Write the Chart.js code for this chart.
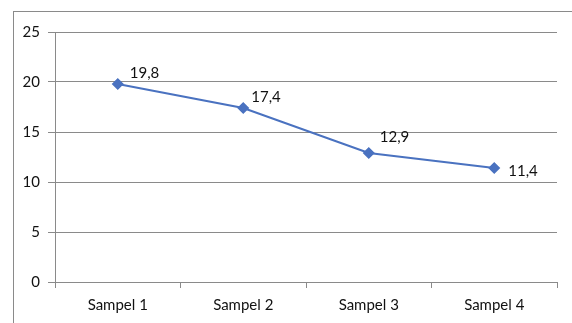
<!DOCTYPE html>
<html>
<head>
<meta charset="utf-8">
<script src="https://cdn.jsdelivr.net/npm/chart.js@4"></script>
<style>
  html, body { margin: 0; padding: 0; background: #fff; }
  #wrap { position: relative; width: 572px; height: 323px; overflow: hidden; }
  #frame { position: absolute; left: 13px; top: 11px; width: 700px; height: 500px; border: 1px solid #8a8a8a; box-sizing: border-box; }
  canvas { position: absolute; left: 0; top: 0; }
</style>
</head>
<body>
<div id="wrap">
  <div id="frame"></div>
  <canvas id="c" width="572" height="323"></canvas>
</div>
<script>
const categories = ["Sampel 1", "Sampel 2", "Sampel 3", "Sampel 4"];
const values = [19.8, 17.4, 12.9, 11.4];
const labelTexts = ["19,8", "17,4", "12,9", "11,4"];
const yTicks = [0, 5, 10, 15, 20, 25];

// label offsets relative to each point (style only)
const labelOffsets = [[12, -11], [8, -11], [11, -16], [14, 3]];

const FONT = "Lato, 'Open Sans', sans-serif";

const labelPlugin = {
  id: 'valueLabels',
  afterDatasetsDraw(chart) {
    const ctx = chart.ctx;
    const meta = chart.getDatasetMeta(0);
    ctx.save();
    ctx.font = "15px " + FONT;
    ctx.fillStyle = "#111";
    ctx.textAlign = "left";
    ctx.textBaseline = "middle";
    meta.data.forEach((pt, i) => {
      ctx.fillText(labelTexts[i], pt.x + labelOffsets[i][0], pt.y + labelOffsets[i][1]);
    });
    ctx.restore();
  }
};

new Chart(document.getElementById('c'), {
  type: 'line',
  data: {
    labels: categories,
    datasets: [{
      data: values,
      borderColor: '#4a72c0',
      backgroundColor: '#4a72c0',
      borderWidth: 2.2,
      pointStyle: 'rectRot',
      pointRadius: 4.5,
      pointHoverRadius: 4.5,
      tension: 0,
      fill: false
    }]
  },
  options: {
    responsive: false,
    animation: false,
    devicePixelRatio: 1,
    layout: { padding: { left: 0, top: 32, right: 15, bottom: 0 } },
    plugins: { legend: { display: false }, tooltip: { enabled: false } },
    scales: {
      x: {
        type: 'category',
        offset: true,
        grid: { display: true, drawOnChartArea: false, drawTicks: true, tickLength: 6, offset: true, color: '#8a8a8a' },
        border: { display: true, color: '#8a8a8a', width: 1 },
        ticks: { color: '#111', font: { family: FONT, size: 15 }, padding: 8, maxRotation: 0 },
        afterFit(s) { s.height = 41; }
      },
      y: {
        min: 0, max: 25,
        afterBuildTicks(s) { s.ticks = yTicks.map(v => ({ value: v })); },
        grid: { color: '#8a8a8a', tickLength: 7, drawTicks: true },
        border: { display: true, color: '#8a8a8a', width: 1 },
        ticks: { color: '#111', font: { family: FONT, size: 15 }, padding: 8 },
        afterFit(s) { s.width = 55; }
      }
    }
  },
  plugins: [labelPlugin]
});
</script>
</body>
</html>
